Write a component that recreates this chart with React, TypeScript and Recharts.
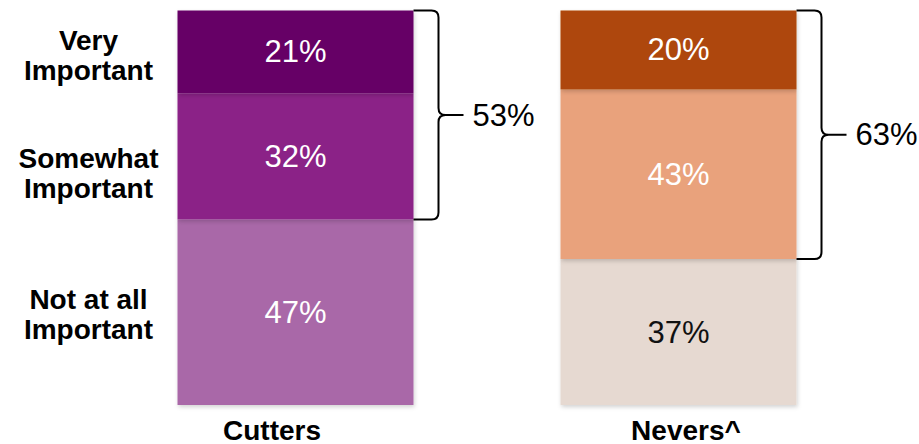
import React from 'react'
import { BarChart, Bar, XAxis, YAxis, Cell, LabelList } from 'recharts'

const categories = ['Cutters', 'Nevers^']
const veryImportant = [21, 20]
const somewhatImportant = [32, 43]
const notAtAllImportant = [47, 37]
const topTwoTotals = [53, 63]
const levelLines = [
  ['Very', 'Important'],
  ['Somewhat', 'Important'],
  ['Not at all', 'Important'],
]

// colors by [category][level: very, somewhat, notAtAll]
const fills = [
  ['#660066', '#8B2387', '#A968A8'],
  ['#AE470D', '#E9A27C', '#E6D9D1'],
]
const textColors = [
  ['#fff', '#fff', '#fff'],
  ['#fff', '#fff', '#111'],
]
const sideLabelNudge = [4, 17, 2]
const tickShift = [-23, 8]

const FONT = '"Liberation Sans", Arial, sans-serif'
const PCT_SIZE = 31
const BOLD_SIZE = 28

const data = categories.map((name, i) => ({
  name,
  very: veryImportant[i],
  somewhat: somewhatImportant[i],
  notAtAll: notAtAllImportant[i],
  topTwo: topTwoTotals[i],
}))

const box = (p: any) => {
  const vb = p.viewBox && p.viewBox.width != null ? p.viewBox : p
  return { x: Number(vb.x), y: Number(vb.y), width: Number(vb.width), height: Number(vb.height) }
}

const SideLabel = ({ x, cy, level }: { x: number; cy: number; level: number }) => (
  <text x={x - 89} y={cy + sideLabelNudge[level]} textAnchor="middle" fill="#000" fontSize={BOLD_SIZE} fontWeight="bold" fontFamily={FONT}>
    <tspan x={x - 89} dy={-15} dominantBaseline="central">{levelLines[level][0]}</tspan>
    <tspan x={x - 89} dy={30} dominantBaseline="central">{levelLines[level][1]}</tspan>
  </text>
)

const segmentLabel = (level: number) => (p: any) => {
  const { x, y, width, height } = box(p)
  const idx = p.index ?? 0
  const cy = y + height / 2
  return (
    <g>
      <text x={x + width / 2} y={cy} textAnchor="middle" dominantBaseline="central" fill={textColors[idx][level]} fontSize={PCT_SIZE} fontFamily={FONT}>
        {p.value}%
      </text>
      {idx === 0 && <SideLabel x={x} cy={cy} level={level} />}
    </g>
  )
}

const bracketLabel = (p: any) => {
  const { x, y, width, height } = box(p)
  const idx = p.index ?? 0
  const pxPerUnit = height / veryImportant[idx]
  const top = y
  const bottom = y + pxPerUnit * (veryImportant[idx] + somewhatImportant[idx])
  const mid = (top + bottom) / 2
  const r = x + width
  const vx = r + 25
  const tip = r + 50
  const c = 7
  const d = [
    `M ${r} ${top} L ${vx - c} ${top} Q ${vx} ${top} ${vx} ${top + c}`,
    `L ${vx} ${mid - c} Q ${vx} ${mid} ${vx + c} ${mid} L ${tip} ${mid}`,
    `M ${vx + c} ${mid} Q ${vx} ${mid} ${vx} ${mid + c}`,
    `L ${vx} ${bottom - c} Q ${vx} ${bottom} ${vx - c} ${bottom} L ${r} ${bottom}`,
  ].join(' ')
  return (
    <g>
      <text x={x + width / 2} y={y + height / 2} textAnchor="middle" dominantBaseline="central" fill={textColors[idx][0]} fontSize={PCT_SIZE} fontFamily={FONT}>
        {p.value}%
      </text>
      {idx === 0 && <SideLabel x={x} cy={y + height / 2} level={0} />}
      <path d={d} fill="none" stroke="#000" strokeWidth={2} />
      <text x={r + 59} y={mid} dominantBaseline="central" fill="#000" fontSize={PCT_SIZE} fontFamily={FONT}>
        {topTwoTotals[idx]}%
      </text>
    </g>
  )
}

const CategoryTick = (p: any) => {
  const idx = p.index ?? categories.indexOf(p.payload.value)
  return (
    <text x={p.x + tickShift[idx]} y={p.y + 25} textAnchor="middle" dominantBaseline="central" fill="#000" fontSize={BOLD_SIZE} fontWeight="bold" fontFamily={FONT}>
      {p.payload.value}
    </text>
  )
}

export default function App() {
  return (
    <div style={{ position: 'absolute', left: 0, top: 0, width: 919, height: 444, background: '#fff' }}>
      <svg width={0} height={0} style={{ position: 'absolute' }}>
        <defs>
          <filter id="segShadow" x="-10%" y="-10%" width="125%" height="130%">
            <feDropShadow dx={1} dy={2} stdDeviation={2} floodColor="#000" floodOpacity={0.18} />
          </filter>
        </defs>
      </svg>
      <BarChart width={919} height={444} data={data} margin={{ top: 10.5, right: 49.5, bottom: 0, left: 103.5 }} barCategoryGap={0}>
        <YAxis hide domain={[0, 100]} />
        <XAxis dataKey="name" axisLine={false} tickLine={false} height={39} tickSize={0} tickMargin={0} tick={<CategoryTick />} interval={0} />
        <Bar dataKey="notAtAll" stackId="a" barSize={236} isAnimationActive={false} style={{ filter: 'url(#segShadow)' }}>
          {data.map((d, i) => <Cell key={d.name} fill={fills[i][2]} />)}
          <LabelList dataKey="notAtAll" content={segmentLabel(2)} />
        </Bar>
        <Bar dataKey="somewhat" stackId="a" barSize={236} isAnimationActive={false} style={{ filter: 'url(#segShadow)' }}>
          {data.map((d, i) => <Cell key={d.name} fill={fills[i][1]} />)}
          <LabelList dataKey="somewhat" content={segmentLabel(1)} />
        </Bar>
        <Bar dataKey="very" stackId="a" barSize={236} isAnimationActive={false} style={{ filter: 'url(#segShadow)' }}>
          {data.map((d, i) => <Cell key={d.name} fill={fills[i][0]} />)}
          <LabelList dataKey="very" content={bracketLabel} />
        </Bar>
      </BarChart>
    </div>
  )
}
